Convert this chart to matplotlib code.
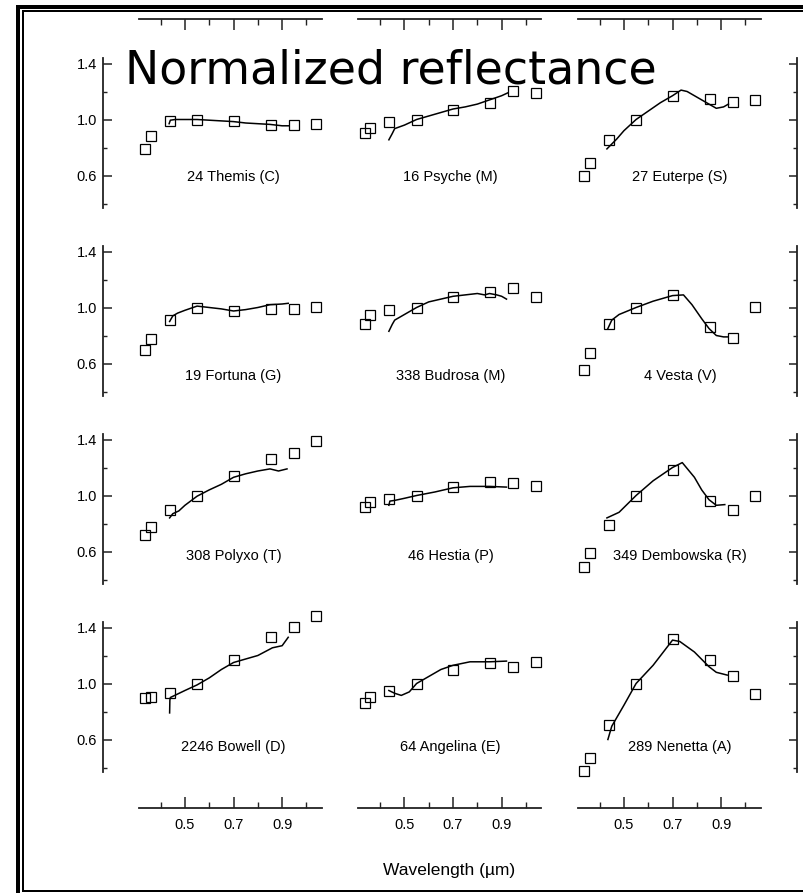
import numpy as np
import matplotlib.pyplot as plt
from matplotlib.lines import Line2D

W, H, DPI = 804, 893, 100


def pt(p):
    # pixels -> points
    return p * 72.0 / DPI


# ECAS filter wavelengths (um), same for every asteroid
ecas_wl = [0.337, 0.359, 0.437, 0.550, 0.701, 0.853, 0.948, 1.041]

names = ["24 Themis (C)", "16 Psyche (M)", "27 Euterpe (S)",
         "19 Fortuna (G)", "338 Budrosa (M)", "4 Vesta (V)",
         "308 Polyxo (T)", "46 Hestia (P)", "349 Dembowska (R)",
         "2246 Bowell (D)", "64 Angelina (E)", "289 Nenetta (A)"]

# ECAS photometry (squares)
themis_ecas = [0.79, 0.88, 0.99, 1.00, 0.99, 0.96, 0.96, 0.965]
psyche_ecas = [0.905, 0.936, 0.983, 1.00, 1.07, 1.12, 1.205, 1.186]
euterpe_ecas = [0.60, 0.686, 0.857, 1.00, 1.167, 1.148, 1.125, 1.14]
fortuna_ecas = [0.696, 0.775, 0.911, 1.00, 0.976, 0.99, 0.99, 1.007]
budrosa_ecas = [0.885, 0.947, 0.983, 1.00, 1.072, 1.11, 1.139, 1.072]
vesta_ecas = [0.553, 0.677, 0.88, 1.00, 1.091, 0.864, 0.78, 1.007]
polyxo_ecas = [0.721, 0.778, 0.893, 1.00, 1.141, 1.258, 1.303, 1.387]
hestia_ecas = [0.921, 0.957, 0.976, 1.00, 1.06, 1.095, 1.088, 1.067]
dembowska_ecas = [0.492, 0.592, 0.79, 1.00, 1.184, 0.959, 0.893, 0.993]
bowell_ecas = [0.897, 0.902, 0.933, 1.00, 1.167, 1.329, 1.406, 1.482]
angelina_ecas = [0.864, 0.902, 0.948, 1.00, 1.095, 1.143, 1.119, 1.155]
nenetta_ecas = [0.375, 0.47, 0.702, 1.00, 1.315, 1.167, 1.053, 0.924]

# CCD spectra (lines)
themis_wl = [0.435, 0.44, 0.46, 0.50, 0.55, 0.60, 0.65, 0.70, 0.75, 0.80, 0.85, 0.90, 0.925]
themis_refl = [0.97, 0.995, 1.0, 1.0, 1.0, 0.995, 0.99, 0.985, 0.975, 0.97, 0.965, 0.955, 0.955]
psyche_wl = [0.436, 0.45, 0.46, 0.50, 0.55, 0.60, 0.65, 0.70, 0.75, 0.80, 0.85, 0.90, 0.925]
psyche_refl = [0.855, 0.90, 0.935, 0.96, 1.0, 1.025, 1.05, 1.075, 1.09, 1.11, 1.14, 1.17, 1.19]
euterpe_wl = [0.43, 0.47, 0.50, 0.55, 0.60, 0.65, 0.70, 0.735, 0.76, 0.80, 0.84, 0.88, 0.91, 0.93]
euterpe_refl = [0.79, 0.86, 0.92, 1.0, 1.06, 1.12, 1.17, 1.21, 1.20, 1.16, 1.12, 1.08, 1.09, 1.11]
fortuna_wl = [0.437, 0.45, 0.47, 0.50, 0.55, 0.60, 0.65, 0.70, 0.75, 0.80, 0.85, 0.90, 0.925]
fortuna_refl = [0.90, 0.94, 0.96, 0.98, 1.01, 1.0, 0.99, 0.975, 0.985, 1.0, 1.02, 1.025, 1.03]
budrosa_wl = [0.436, 0.45, 0.46, 0.50, 0.55, 0.60, 0.65, 0.70, 0.75, 0.80, 0.83, 0.85, 0.88, 0.90, 0.92]
budrosa_refl = [0.83, 0.88, 0.91, 0.95, 1.0, 1.04, 1.06, 1.08, 1.09, 1.10, 1.09, 1.10, 1.09, 1.08, 1.06]
vesta_wl = [0.434, 0.45, 0.48, 0.55, 0.62, 0.70, 0.745, 0.78, 0.82, 0.85, 0.88, 0.91, 0.925]
vesta_refl = [0.85, 0.91, 0.95, 1.0, 1.045, 1.085, 1.09, 1.02, 0.92, 0.85, 0.80, 0.79, 0.79]
polyxo_wl = [0.437, 0.45, 0.475, 0.50, 0.55, 0.60, 0.65, 0.70, 0.75, 0.80, 0.85, 0.885, 0.92]
polyxo_refl = [0.84, 0.87, 0.89, 0.93, 0.995, 1.04, 1.08, 1.13, 1.155, 1.175, 1.19, 1.175, 1.19]
hestia_wl = [0.436, 0.44, 0.46, 0.50, 0.55, 0.625, 0.70, 0.77, 0.85, 0.92]
hestia_refl = [0.93, 0.96, 0.965, 0.98, 1.0, 1.025, 1.055, 1.065, 1.065, 1.06]
dembowska_wl = [0.43, 0.48, 0.55, 0.62, 0.70, 0.74, 0.79, 0.82, 0.85, 0.88, 0.915]
dembowska_refl = [0.84, 0.88, 1.0, 1.105, 1.20, 1.235, 1.13, 1.04, 0.97, 0.93, 0.935]
bowell_wl = [0.437, 0.438, 0.44, 0.50, 0.55, 0.60, 0.65, 0.70, 0.75, 0.80, 0.86, 0.90, 0.925]
bowell_refl = [0.79, 0.88, 0.90, 0.95, 0.99, 1.04, 1.10, 1.15, 1.175, 1.20, 1.255, 1.27, 1.33]
angelina_wl = [0.436, 0.46, 0.487, 0.52, 0.55, 0.60, 0.65, 0.70, 0.77, 0.85, 0.92]
angelina_refl = [0.95, 0.93, 0.915, 0.94, 1.0, 1.05, 1.10, 1.13, 1.155, 1.155, 1.16]
nenetta_wl = [0.434, 0.45, 0.50, 0.55, 0.62, 0.66, 0.70, 0.73, 0.79, 0.85, 0.88, 0.925]
nenetta_refl = [0.60, 0.695, 0.845, 1.0, 1.13, 1.22, 1.31, 1.30, 1.225, 1.12, 1.08, 1.06]

ecas_all = [themis_ecas, psyche_ecas, euterpe_ecas, fortuna_ecas, budrosa_ecas, vesta_ecas,
            polyxo_ecas, hestia_ecas, dembowska_ecas, bowell_ecas, angelina_ecas, nenetta_ecas]
spec_all = [(themis_wl, themis_refl), (psyche_wl, psyche_refl), (euterpe_wl, euterpe_refl),
            (fortuna_wl, fortuna_refl), (budrosa_wl, budrosa_refl), (vesta_wl, vesta_refl),
            (polyxo_wl, polyxo_refl), (hestia_wl, hestia_refl), (dembowska_wl, dembowska_refl),
            (bowell_wl, bowell_refl), (angelina_wl, angelina_refl), (nenetta_wl, nenetta_refl)]

# layout (pixels)
col_left = [139, 358.5, 578]
col_w = 183
row_one = [119.5, 307.5, 495.5, 683.5]   # pixel y of 1.0 in each row
ppu = 140                                 # pixels per reflectance unit
ylo, yhi = 0.3, 1.6
label_x = [0.70, 0.69, 0.73]
label_y = [0.59, 0.51, 0.57, 0.55]

plt.rcParams['font.family'] = ['Liberation Sans', 'DejaVu Sans']
fig = plt.figure(figsize=(W / DPI, H / DPI), dpi=DPI)
spc = '#222222'

for i, name in enumerate(names):
    r, c = divmod(i, 3)
    top = row_one[r] - (yhi - 1.0) * ppu
    h = (yhi - ylo) * ppu
    ax = fig.add_axes([col_left[c] / W, 1 - (top + h) / H, col_w / W, h / H])
    ax.patch.set_alpha(0)
    ax.set_xlim(0.311, 1.064)
    ax.set_ylim(ylo, yhi)

    wl, refl = spec_all[i]
    ax.plot(wl, refl, color='black', lw=1.1, clip_on=False)
    ax.plot(ecas_wl, ecas_all[i], 's', ms=7.2, mfc='none', mec='black', mew=0.9,
            clip_on=False)
    ax.text(label_x[c], label_y[r], name, ha='center', va='center', fontsize=10.5)

    for s in ax.spines.values():
        s.set_visible(False)
        s.set_color(spc)
        s.set_linewidth(1.3)
    ax.tick_params(which='both', left=False, right=False, top=False, bottom=False,
                   labelleft=False, labelright=False, labeltop=False, labelbottom=False,
                   direction='in', color=spc, labelsize=10.5)
    ax.tick_params(axis='x', which='major', length=pt(11), width=1.1, pad=pt(10))
    ax.tick_params(axis='x', which='minor', length=pt(6), width=1.0)
    ax.tick_params(axis='y', which='major', length=pt(8.5), width=1.1, pad=pt(6))
    ax.tick_params(axis='y', which='minor', length=pt(4), width=1.0)
    ax.set_xticks([0.5, 0.7, 0.9])
    ax.set_xticklabels(['0.5', '0.7', '0.9'])
    ax.set_xticks([0.4, 0.6, 0.8, 1.0], minor=True)
    ax.set_yticks([0.6, 1.0, 1.4])
    ax.set_yticklabels(['0.6', '1.0', '1.4'])
    ax.set_yticks([0.4, 0.8, 1.2], minor=True)

    if c == 0:
        ax.spines['left'].set_visible(True)
        ax.spines['left'].set_position(('outward', pt(36)))
        ax.spines['left'].set_bounds(0.37, 1.44)
        ax.tick_params(axis='y', which='both', left=True, labelleft=True)
    if c == 2:
        ax.spines['right'].set_visible(True)
        ax.spines['right'].set_position(('outward', pt(36)))
        ax.spines['right'].set_bounds(0.37, 1.44)
        ax.tick_params(axis='y', which='both', right=True)
    if r == 0:
        ax.spines['top'].set_visible(True)
        ax.spines['top'].set_position(('outward', pt(16.5)))
        ax.tick_params(axis='x', which='both', top=True)
    if r == 3:
        ax.spines['bottom'].set_visible(True)
        ax.spines['bottom'].set_position(('outward', pt(26.5)))
        ax.tick_params(axis='x', which='both', bottom=True, labelbottom=True)

fig.text(125 / W, 1 - 83 / H, 'Normalized reflectance', fontsize=33,
         family='DejaVu Sans', ha='left', va='baseline')
fig.text(449 / W, 1 - 870 / H, 'Wavelength (\u00b5m)', fontsize=12.5,
         ha='center', va='center')

# double frame around the figure
def frame_line(xs, ys, lw):
    fig.add_artist(Line2D([x / W for x in xs], [1 - y / H for y in ys],
                          color='black', lw=pt(lw), transform=fig.transFigure,
                          solid_capstyle='butt'))

frame_line([18.5, 18.5], [5, H], 4)
frame_line([16.5, W], [7, 7], 4)
frame_line([23, 23], [10, 892], 2)
frame_line([22, W], [11, 11], 2)
frame_line([22, W], [891, 891], 2)

fig.savefig('out.png', dpi=DPI)
